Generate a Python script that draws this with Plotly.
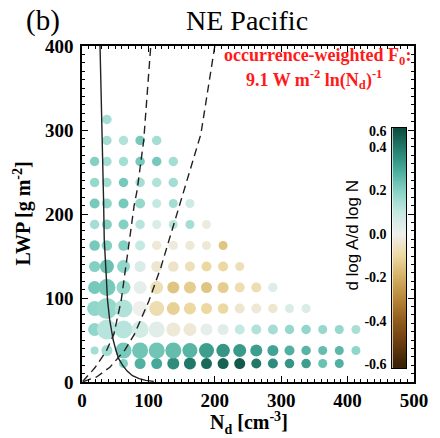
import numpy as np
import plotly.graph_objects as go

# ---------------- data ----------------
nd_bins = [19, 37.5, 62.5, 87.5, 112.5, 137.5, 162.5, 187.5, 212.5, 237.5,
           262.5, 287.5, 312.5, 337.5, 362.5, 387.5, 412.5]
lwp_bins = [22, 37.5, 62.5, 87.5, 112.5, 137.5, 162.5, 187.5, 212.5, 237.5,
            262.5, 287.5, 312.5]

# susceptibility d log A / d log N per LWP row (bottom -> top), per Nd column
slope_rows = [
    [None, None, 0.2, 0.28, 0.3, 0.36, 0.4, 0.43, 0.44, 0.46, 0.4, 0.36, 0.34, 0.32, 0.24, 0.28],
    [0.15, 0.15, 0.22, 0.23, 0.23, 0.25, 0.27, 0.32, 0.34, 0.33, 0.32, 0.31, 0.28, 0.27, 0.25, 0.26, 0.18],
    [0.18, 0.12, 0.12, 0.07, 0.03, -0.03, -0.03, 0.02, 0.03, 0.1, 0.13, 0.15, 0.17, 0.18, 0.17, 0.17, 0.14],
    [0.18, 0.17, 0.13, 0.0, -0.08, -0.12, -0.1, -0.1, -0.1, -0.04, -0.03, -0.04, 0.05, 0.05],
    [0.22, 0.22, 0.17, 0.02, -0.07, -0.15, -0.13, -0.15, -0.13, -0.08, -0.08, 0.04],
    [0.2, 0.24, 0.18, 0.05, -0.04, -0.05, -0.07, -0.1, -0.1, -0.07],
    [0.22, 0.2, 0.2, 0.1, -0.03, -0.02, -0.03, -0.03, -0.15],
    [0.15, 0.2, 0.2, 0.12, 0.05, 0.12, 0.15, -0.02],
    [0.22, 0.18, 0.22, 0.17, 0.1, 0.15, 0.08],
    [0.17, 0.15, 0.22, 0.15, 0.13, 0.15],
    [0.2, 0.15, 0.15, 0.22, 0.22, 0.15],
    [None, 0.15, 0.13, 0.22, 0.15],
    [None, 0.15],
]

# occurrence frequency (%) per cell, same layout
occ_rows = [
    [None, None, 0.8, 1.6, 1.6, 2.0, 2.0, 1.6, 1.6, 1.6, 1.2, 1.2, 1.0, 1.0, 0.8, 0.8],
    [0.4, 1.6, 3.6, 3.6, 3.6, 3.6, 3.2, 3.2, 2.6, 2.4, 2.0, 1.6, 1.2, 1.0, 0.8, 0.8, 0.8],
    [2.4, 5.2, 4.4, 4.0, 3.6, 2.8, 2.4, 2.0, 1.6, 1.2, 1.2, 1.2, 1.0, 1.0, 0.8, 0.8, 0.8],
    [3.2, 5.6, 4.4, 3.2, 3.2, 2.4, 2.0, 1.6, 1.4, 1.2, 1.2, 1.0, 0.8, 0.8],
    [2.4, 4.0, 2.8, 2.4, 2.4, 2.0, 2.0, 1.6, 1.6, 1.2, 1.2, 1.0],
    [1.6, 2.8, 2.4, 1.6, 1.6, 1.4, 1.2, 1.2, 1.2, 0.8],
    [1.4, 1.4, 1.4, 1.2, 1.0, 1.0, 1.0, 0.8, 0.8],
    [1.0, 1.2, 1.2, 1.0, 0.8, 0.8, 0.8, 0.8],
    [1.2, 1.2, 1.2, 1.2, 0.8, 0.8, 0.8],
    [1.0, 1.0, 1.0, 1.0, 1.0, 1.0],
    [1.0, 1.0, 1.0, 1.0, 1.0, 1.0],
    [None, 1.0, 1.0, 1.0, 1.0],
    [None, 1.0],
]

# reference curves (Nd, LWP)
solid_nd = [27, 29.5, 31.5, 32.5, 33.5, 35.5, 38.5, 41.5, 44.5, 47, 51, 55, 61, 68, 76, 86, 96, 108]
solid_lwp = [405, 330, 260, 216, 170, 137, 97, 75, 58, 50, 38, 28, 20, 13, 7.5, 4, 2, 0.8]
dash1_nd = [1, 5, 20, 37, 48, 59, 66.5, 72, 78.5, 83, 93, 104]
dash1_lwp = [0.5, 4, 17.5, 37.5, 57, 97, 137, 172, 210, 228, 288, 405]
dash2_nd = [2, 22, 42, 64, 79, 101, 119, 134, 149, 179, 201]
dash2_lwp = [0.5, 6, 17.6, 37.5, 57, 97, 137, 176, 216, 295, 405]

cbar_ticks = [-0.6, -0.4, -0.2, 0.0, 0.2, 0.4, 0.474]
cbar_labels = ["-0.6", "-0.4", "-0.2", "0.0", "0.2", "0.4", "0.6"]

# ---------------- build point lists ----------------
px, py, pc, ps = [], [], [], []
for j, (srow, orow) in enumerate(zip(slope_rows, occ_rows)):
    for i, (s, o) in enumerate(zip(srow, orow)):
        if s is None:
            continue
        px.append(nd_bins[i])
        py.append(lwp_bins[j])
        pc.append(s)
        ps.append(o)
sizes = [7 + 2.5 * o for o in ps]

colorscale = [
    [0.0, "#3b2206"], [0.0833, "#6b3d0f"], [0.1667, "#915b1d"], [0.25, "#b78538"],
    [0.3333, "#d4b062"], [0.4167, "#ecd9a2"], [0.5, "#efefed"], [0.5833, "#c4e9e2"],
    [0.6667, "#84d1c4"], [0.75, "#45a898"], [0.8333, "#217868"], [0.9167, "#0b4236"],
    [1.0, "#03261e"],
]

SERIF = "Liberation Serif, Times New Roman, serif"
SANS = "Liberation Sans, Arial, sans-serif"

fig = go.Figure()
fig.add_trace(go.Scatter(
    x=px, y=py, mode="markers",
    marker=dict(size=sizes, color=pc, colorscale=colorscale, cmin=-0.6, cmax=0.6,
                line=dict(width=0), opacity=1),
    showlegend=False, hoverinfo="skip", cliponaxis=True))
fig.add_trace(go.Scatter(x=solid_nd, y=solid_lwp, mode="lines",
                         line=dict(color="#222", width=1.4), showlegend=False))
for xs, ys in [(dash1_nd, dash1_lwp), (dash2_nd, dash2_lwp)]:
    fig.add_trace(go.Scatter(x=xs, y=ys, mode="lines",
                             line=dict(color="#222", width=1.4, dash="8px,5px"),
                             showlegend=False))

# colorbar drawn as heatmap strip
zlo, zhi = -0.618, 0.4876
cy = np.linspace(zlo, zhi, 300)
fig.add_trace(go.Heatmap(x=[0], y=cy, z=[[v] for v in cy], colorscale=colorscale,
                         zmin=-0.6, zmax=0.6, showscale=False, xaxis="x2", yaxis="y2",
                         hoverinfo="skip"))

tickfont = dict(family=SERIF, size=19, color="black", weight="bold")
axis_common = dict(showgrid=False, zeroline=False, showline=True, linecolor="black",
                   linewidth=1.5, mirror="allticks", ticks="inside", ticklen=6,
                   tickwidth=1, tickcolor="black", tickfont=tickfont)

fig.update_layout(
    width=440, height=438,
    margin=dict(l=82, r=18, t=46, b=56),
    paper_bgcolor="white", plot_bgcolor="white",
    xaxis=dict(range=[0, 500], tickvals=[0, 100, 200, 300, 400, 500],
               minor=dict(ticks="inside", dtick=10, ticklen=3, tickwidth=1, tickcolor="black",
                          showgrid=False),
               ticklabelstandoff=0, **axis_common),
    yaxis=dict(range=[0, 400], tickvals=[0, 100, 200, 300, 400],
               minor=dict(ticks="inside", dtick=10, ticklen=3, tickwidth=1, tickcolor="black",
                          showgrid=False),
               ticklabelstandoff=3, **axis_common),
    xaxis2=dict(domain=[0.935, 0.9765], anchor="y2", range=[-0.5, 0.5],
                showticklabels=False, ticks="", showgrid=False, zeroline=False,
                showline=True, linecolor="black", linewidth=1, mirror=True),
    yaxis2=dict(domain=[0.0417, 0.756], anchor="x2", range=[zlo, zhi], side="left",
                tickvals=cbar_ticks, ticktext=cbar_labels, ticks="",
                tickfont=dict(family=SERIF, size=14, color="black", weight="bold"),
                showgrid=False, zeroline=False, showline=True, linecolor="black",
                linewidth=1, mirror=True, ticklabelstandoff=2),
)

ann = [
    dict(text="NE Pacific", x=0.497, y=1.077, font=dict(family=SERIF, size=28, color="black")),
    dict(text="(b)", x=-0.118, y=1.077, font=dict(family=SERIF, size=29, color="black")),
    dict(text="<b>LWP [g m<sup>-2</sup>]</b>", x=-0.182, y=0.5, textangle=-90,
         font=dict(family=SERIF, size=20, color="black")),
    dict(text="<b>N<sub>d</sub> [cm<sup>-3</sup>]</b>", x=0.503, y=-0.122,
         font=dict(family=SERIF, size=20, color="black")),
    dict(text="<b>occurrence-weighted F<sub>0</sub>:</b>", x=0.997, y=0.970, xanchor="right",
         font=dict(family=SERIF, size=18, color="#ff1a1a")),
    dict(text="<b>9.1 W m<sup>-2</sup> ln(N<sub>d</sub>)<sup>-1</sup></b>", x=0.70, y=0.899,
         font=dict(family=SERIF, size=18, color="#ff1a1a")),
    dict(text="d log A/d log N", x=0.812, y=0.4375, textangle=-90,
         font=dict(family=SANS, size=17, color="black")),
]
for a in ann:
    a.setdefault("xanchor", "center")
    a.setdefault("yanchor", "middle")
    fig.add_annotation(xref="paper", yref="paper", showarrow=False, **a)

fig.write_html("out.html")
